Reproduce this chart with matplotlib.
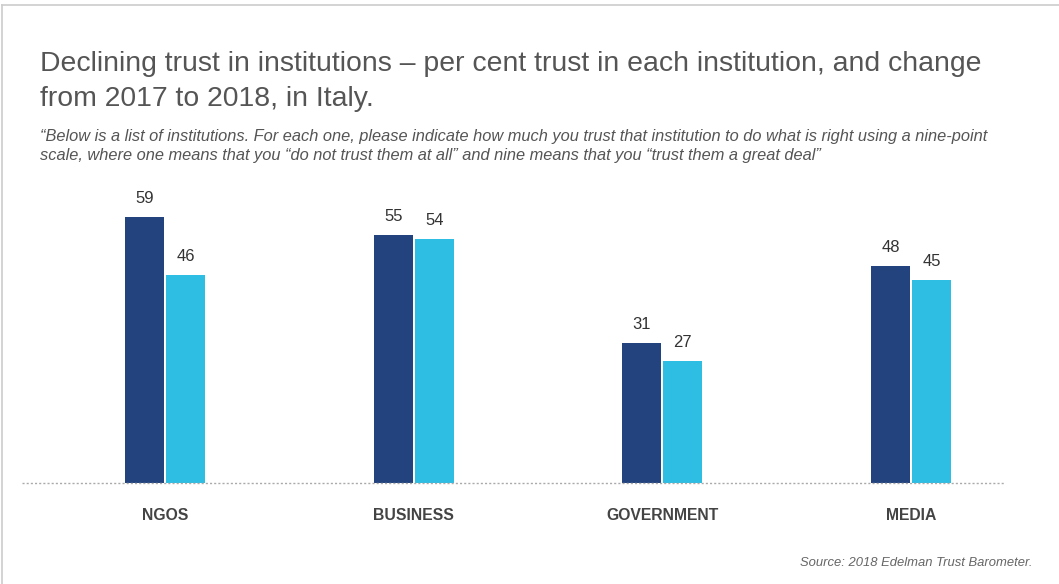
import matplotlib
matplotlib.use("Agg")
import matplotlib.pyplot as plt
import numpy as np
from matplotlib.lines import Line2D

categories = ["NGOS", "BUSINESS", "GOVERNMENT", "MEDIA"]
trust_2017 = [59, 55, 31, 48]
trust_2018 = [46, 54, 27, 45]

W, H = 1059, 584
plt.rcParams['font.family'] = ['Liberation Sans', 'DejaVu Sans']
fig = plt.figure(figsize=(W / 100, H / 100), dpi=100)

ax = fig.add_axes([22 / W, 101 / H, (1005 - 22) / W, (483 - 183) / H])
x = np.arange(len(categories))
bw = 0.157
off = 0.0824
dark = "#23437f"
light = "#2ebde3"
b1 = ax.bar(x - off, trust_2017, width=bw, color=dark)
b2 = ax.bar(x + off, trust_2018, width=bw, color=light)
for bars, vals in ((b1, trust_2017), (b2, trust_2018)):
    for r, v in zip(bars, vals):
        ax.annotate(str(v), (r.get_x() + r.get_width() / 2, v), xytext=(0, 8),
                    textcoords="offset points", ha="center", va="bottom",
                    fontsize=12, color="#333333")
ax.set_xlim(-0.575, 3.378)
ax.set_ylim(0, 66.5)
ax.axhline(0, color="#aaaaaa", lw=1, ls=(0, (1.5, 1.5)), clip_on=False)
for s in ax.spines.values():
    s.set_visible(False)
ax.set_yticks([])
ax.set_xticks(x)
ax.set_xticklabels(categories, fontsize=11.3, fontweight="bold", color="#444444")
ax.tick_params(axis="x", length=0, pad=18)

fig.text(40 / W, 1 - 81.5 / H, "Declining trust in institutions \u2013 per cent trust in each institution, and change\nfrom 2017 to 2018, in Italy.",
         fontsize=20.4, color="#555555", va="center", ha="left", linespacing=1.44)
fig.text(40 / W, 1 - 146 / H, "\u201cBelow is a list of institutions. For each one, please indicate how much you trust that institution to do what is right using a nine-point\nscale, where one means that you \u201cdo not trust them at all\u201d and nine means that you \u201ctrust them a great deal\u201d",
         fontsize=11.8, style="italic", color="#555555", va="center", ha="left", linespacing=1.32)
fig.text(1032 / W, 1 - 563 / H, "Source: 2018 Edelman Trust Barometer.", fontsize=9.4, style="italic",
         color="#666666", ha="right", va="center")

fig.add_artist(Line2D([2 / W, 2 / W], [0, 1 - 5 / H], color="#cccccc", lw=1.2))
fig.add_artist(Line2D([2 / W, 1], [1 - 5 / H, 1 - 5 / H], color="#cccccc", lw=1.2))

fig.savefig("out.png", dpi=100)
